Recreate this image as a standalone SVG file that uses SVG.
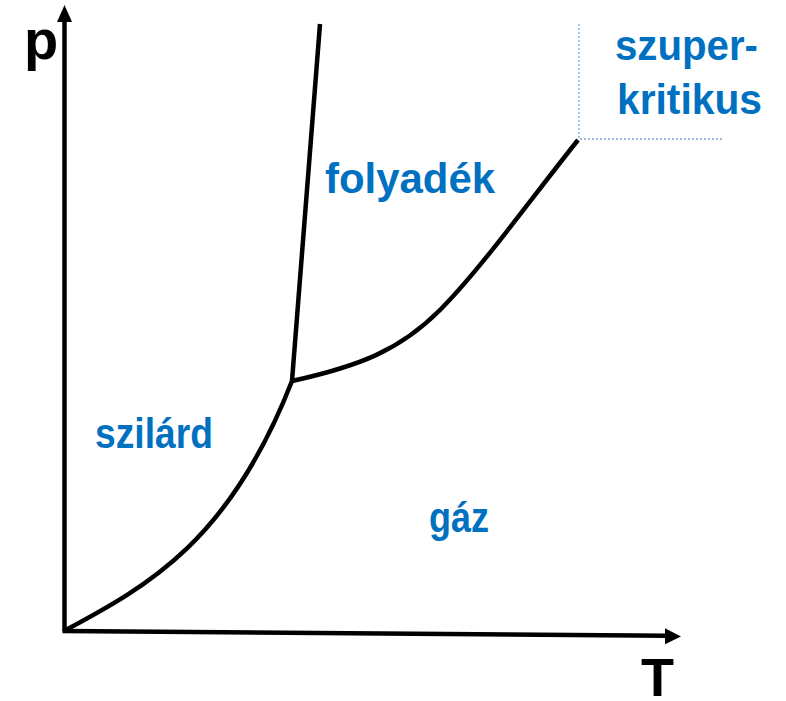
<svg xmlns="http://www.w3.org/2000/svg" width="786" height="701" viewBox="0 0 786 701">
<defs>
<style>
.ax{fill:none;stroke:#000;stroke-width:4.5}
.cv{fill:none;stroke:#000;stroke-width:4.5;stroke-linejoin:round}
.dot{fill:none;stroke:#7BA7D7;stroke-width:1.3;stroke-dasharray:2 2}
.lbl{font-family:"Liberation Sans",Arial,sans-serif;font-weight:bold;font-size:42px;fill:#0070C0}
.axl{font-family:"Liberation Sans",Arial,sans-serif;font-weight:bold;font-size:56px;fill:#000}
</style>
</defs>
<rect width="786" height="701" fill="#fff"/>
<g id="axes">
<line class="ax" x1="64.5" y1="631" x2="64.5" y2="20"/>
<polygon points="64.5,5 57,22 72,22" fill="#000"/>
<line class="ax" x1="62.5" y1="631" x2="667" y2="635.8"/>
<polygon points="681,636.5 665,628.3 665,644.3" fill="#000"/>
<text class="axl" x="24" y="59">p</text>
<text class="axl" x="641" y="696" style="font-size:54px">T</text>
</g>
<g id="connectors">
<path id="sublimation" class="cv" d="M64,631 C150,585 230,540 292,381"/>
<path id="melting" class="cv" d="M292,381 L320,24"/>
<path id="vaporization" class="cv" d="M292,381 C360,366 400,350 440,310 S530,200 578,140"/>
<path id="critical-lines" class="dot" d="M579,24 V139 H722"/>
</g>
<g id="folyadek"><text class="lbl" x="325" y="193" textLength="170" lengthAdjust="spacingAndGlyphs">folyadék</text></g>
<g id="szilard"><text class="lbl" x="95" y="448" textLength="118" lengthAdjust="spacingAndGlyphs">szilárd</text></g>
<g id="gaz"><text class="lbl" x="429" y="532" textLength="60" lengthAdjust="spacingAndGlyphs">gáz</text></g>
<g id="szuperkritikus">
<text class="lbl" x="615" y="60" textLength="143" lengthAdjust="spacingAndGlyphs">szuper-</text>
<text class="lbl" x="617" y="114" textLength="145" lengthAdjust="spacingAndGlyphs">kritikus</text>
</g>
</svg>
